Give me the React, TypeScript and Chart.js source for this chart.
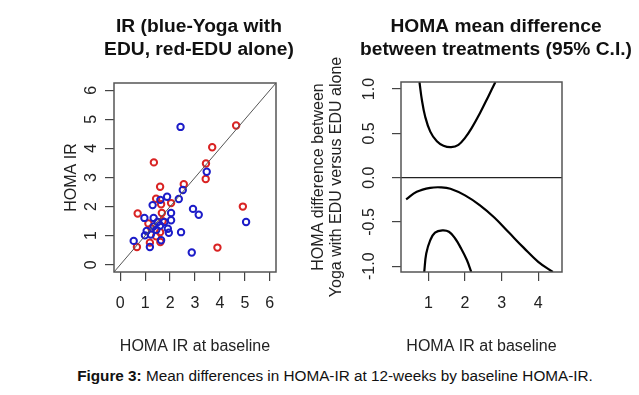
import React, { useEffect, useRef } from "react";
import { Chart, registerables } from "chart.js";

Chart.register(...registerables);

const FONT = "'Liberation Sans', Arial, Helvetica, sans-serif";
const TEXT = "#222222";
const BLUE = "#1c1cc8";
const RED = "#d92323";

// ---- Left panel: HOMA IR at baseline (x) vs HOMA IR at 12 weeks (y)
const yogaBaseline = [2.42, 3.47, 2.51, 2.35, 1.88, 1.61, 1.30, 2.04, 2.04, 2.92, 3.15, 0.97, 1.34, 1.50, 1.77, 1.34, 1.60, 1.91, 1.06, 1.23, 1.95, 2.44, 0.99, 1.64, 0.54, 1.19, 2.87, 5.05, 1.45];
const yogaFollowup = [4.74, 3.20, 2.57, 2.26, 2.34, 2.23, 2.05, 1.78, 1.53, 1.92, 1.72, 1.61, 1.61, 1.47, 1.47, 1.32, 1.35, 1.24, 1.16, 1.04, 1.10, 1.12, 1.01, 0.84, 0.82, 0.61, 0.42, 1.47, 1.20];
const eduBaseline = [4.65, 3.69, 1.35, 3.44, 3.43, 1.60, 2.55, 1.44, 2.04, 1.64, 0.70, 1.67, 4.92, 1.13, 1.60, 1.44, 1.19, 1.61, 0.67, 3.90, 1.25, 1.70];
const eduFollowup = [4.79, 4.04, 3.52, 3.48, 2.95, 2.68, 2.77, 2.27, 2.12, 2.08, 1.76, 1.78, 2.00, 1.42, 1.12, 0.98, 0.76, 0.78, 0.61, 0.59, 1.25, 1.50];
const leftRange = [-0.25, 6.25];
const leftTitle = ["IR (blue-Yoga with", "EDU, red-EDU alone)"];
const leftXTitle = "HOMA IR at baseline";
const leftYTitle = "HOMA IR";

// ---- Right panel: mean difference with 95% CI bands
const upperX = [0.755, 0.82, 0.91, 1.05, 1.23, 1.41, 1.62, 1.82, 2.0, 2.18, 2.41, 2.64, 2.83];
const upperY = [1.08, 0.88, 0.69, 0.52, 0.41, 0.36, 0.344, 0.37, 0.45, 0.56, 0.73, 0.92, 1.08];
const meanX = [0.39, 0.68, 1.05, 1.34, 1.6, 2.0, 2.4, 2.8, 3.2, 3.6, 4.0, 4.4];
const meanY = [-0.245, -0.16, -0.115, -0.109, -0.125, -0.2, -0.31, -0.45, -0.62, -0.79, -0.95, -1.065];
const lowerX = [0.885, 0.94, 1.05, 1.18, 1.38, 1.56, 1.73, 1.88, 2.05, 2.17];
const lowerY = [-1.065, -0.857, -0.706, -0.62, -0.595, -0.61, -0.687, -0.79, -0.93, -1.065];
const rightXRange = [0.25, 4.65];
const rightYRange = [-1.065, 1.08];
const rightTitle = ["HOMA mean difference", "between treatments (95% C.I.)"];
const rightXTitle = "HOMA IR at baseline";
const rightYTitle = ["HOMA difference between", "Yoga with EDU versus EDU alone"];

const zip = (xs: number[], ys: number[]) => xs.map((x, i) => ({ x, y: ys[i] }));

const panelText = {
  id: "panelText",
  afterDraw(chart: any, _args: any, opts: any) {
    const { ctx, chartArea: a } = chart;
    ctx.save();
    ctx.strokeStyle = "#555555";
    ctx.lineWidth = 1.5;
    ctx.strokeRect(a.left, a.top, a.right - a.left, a.bottom - a.top);
    ctx.fillStyle = "#111111";
    ctx.font = `bold 19.2px ${FONT}`;
    ctx.textAlign = "center";
    ctx.textBaseline = "middle";
    (opts.title || []).forEach((line: string, i: number) =>
      ctx.fillText(line, opts.titleX, opts.titleY + i * 23)
    );
    if (opts.yTitle) {
      ctx.font = `16px ${FONT}`;
      ctx.fillStyle = TEXT;
      const cy = (a.top + a.bottom) / 2;
      opts.yTitle.forEach((line: string, i: number) => {
        ctx.save();
        ctx.translate(opts.yTitleX + i * 17.5, cy);
        ctx.rotate(-Math.PI / 2);
        ctx.fillText(line, 0, 0);
        ctx.restore();
      });
    }
    ctx.restore();
  },
};

const tickFont = { family: FONT, size: 16 };
const gridOpts = { drawOnChartArea: false, drawTicks: true, tickLength: 9, color: "#444444", lineWidth: 1.2 };

function leftConfig(): any {
  return {
    type: "scatter",
    data: {
      datasets: [
        {
          data: [{ x: leftRange[0], y: leftRange[0] }, { x: leftRange[1], y: leftRange[1] }],
          showLine: true,
          borderColor: "#555555",
          borderWidth: 1,
          pointRadius: 0,
        },
        {
          data: zip(yogaBaseline, yogaFollowup),
          pointRadius: 3.2,
          pointBorderWidth: 2,
          pointBorderColor: BLUE,
          pointBackgroundColor: "rgba(0,0,0,0)",
        },
        {
          data: zip(eduBaseline, eduFollowup),
          pointRadius: 3.2,
          pointBorderWidth: 2,
          pointBorderColor: RED,
          pointBackgroundColor: "rgba(0,0,0,0)",
        },
      ],
    },
    options: {
      animation: false,
      responsive: false,
      events: [],
      layout: { padding: { left: 0, right: 24, top: 83, bottom: 0 } },
      plugins: {
        legend: { display: false },
        tooltip: { enabled: false },
        panelText: { title: leftTitle, titleX: 199, titleY: 27, yTitle: null },
      },
      scales: {
        x: {
          type: "linear",
          min: leftRange[0],
          max: leftRange[1],
          afterFit: (s: any) => { s.height = 88; },
          ticks: { stepSize: 1, includeBounds: false, font: tickFont, color: TEXT, padding: 13, maxRotation: 0 },
          grid: gridOpts,
          border: { display: false },
          title: { display: true, text: leftXTitle, font: { family: FONT, size: 16 }, color: TEXT, padding: { top: 0, bottom: 4 } },
        },
        y: {
          type: "linear",
          min: leftRange[0],
          max: leftRange[1],
          afterFit: (s: any) => { s.width = 114; },
          ticks: { stepSize: 1, includeBounds: false, font: tickFont, color: TEXT, padding: 8.5, minRotation: 90, maxRotation: 90, crossAlign: "center" },
          grid: gridOpts,
          border: { display: false },
          title: { display: true, text: leftYTitle, font: { family: FONT, size: 16 }, color: TEXT, padding: { top: 61.5, bottom: 0 } },
        },
      },
    },
    plugins: [panelText],
  };
}

function rightConfig(): any {
  const curve = (xs: number[], ys: number[]) => ({
    data: zip(xs, ys),
    showLine: true,
    borderColor: "#000000",
    borderWidth: 2.2,
    pointRadius: 0,
    tension: 0.4,
  });
  return {
    type: "scatter",
    data: {
      datasets: [
        {
          data: [{ x: rightXRange[0], y: 0 }, { x: rightXRange[1], y: 0 }],
          showLine: true,
          borderColor: "#222222",
          borderWidth: 1.2,
          pointRadius: 0,
        },
        curve(upperX, upperY),
        curve(meanX, meanY),
        curve(lowerX, lowerY),
      ],
    },
    options: {
      animation: false,
      responsive: false,
      events: [],
      layout: { padding: { left: 0, right: 77, top: 82, bottom: 0 } },
      plugins: {
        legend: { display: false },
        tooltip: { enabled: false },
        panelText: { title: rightTitle, titleX: 196, titleY: 27, yTitle: rightYTitle, yTitleX: 19 },
      },
      scales: {
        x: {
          type: "linear",
          min: rightXRange[0],
          max: rightXRange[1],
          afterFit: (s: any) => { s.height = 88; },
          ticks: { stepSize: 1, includeBounds: false, font: tickFont, color: TEXT, padding: 13, maxRotation: 0 },
          grid: gridOpts,
          border: { display: false },
          title: { display: true, text: rightXTitle, font: { family: FONT, size: 16 }, color: TEXT, padding: { top: 0, bottom: 4 } },
        },
        y: {
          type: "linear",
          min: rightYRange[0],
          max: rightYRange[1],
          afterFit: (s: any) => { s.width = 101; },
          ticks: {
            stepSize: 0.5,
            includeBounds: false,
            font: tickFont,
            color: TEXT,
            padding: 8.5,
            minRotation: 90,
            maxRotation: 90,
            crossAlign: "center",
            callback: (v: number) => Number(v).toFixed(1),
          },
          grid: gridOpts,
          border: { display: false },
          title: { display: false },
        },
      },
    },
    plugins: [panelText],
  };
}

export default function App() {
  const leftRef = useRef<HTMLCanvasElement>(null);
  const rightRef = useRef<HTMLCanvasElement>(null);

  useEffect(() => {
    const c1 = new Chart(leftRef.current as HTMLCanvasElement, leftConfig());
    const c2 = new Chart(rightRef.current as HTMLCanvasElement, rightConfig());
    return () => {
      c1.destroy();
      c2.destroy();
    };
  }, []);

  return (
    <div style={{ position: "absolute", left: 0, top: 0, width: 639, height: 395, background: "#ffffff", overflow: "hidden" }}>
      <canvas ref={leftRef} width={300} height={360} style={{ position: "absolute", left: 0, top: 0, width: 300, height: 360 }} />
      <canvas ref={rightRef} width={339} height={360} style={{ position: "absolute", left: 300, top: 0, width: 339, height: 360 }} />
      <div
        style={{
          position: "absolute",
          left: 0,
          width: 670,
          top: 367,
          height: 18,
          lineHeight: "18px",
          textAlign: "center",
          fontFamily: FONT,
          fontSize: 15.3,
          color: "#111111",
          whiteSpace: "nowrap",
        }}
      >
        <b>Figure 3:</b> Mean differences in HOMA-IR at 12-weeks by baseline HOMA-IR.
      </div>
    </div>
  );
}
